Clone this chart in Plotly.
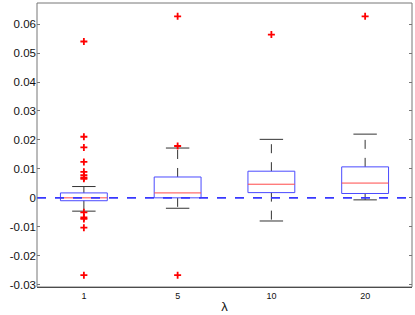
import plotly.graph_objects as go

categories = ["1", "5", "10", "20"]
q1 = [-0.0010, 0.0000, 0.0018, 0.0015]
median = [0.0000, 0.0017, 0.0047, 0.0051]
q3 = [0.0017, 0.0072, 0.0092, 0.0107]
lower_whisker = [-0.0046, -0.0036, -0.0080, -0.0007]
upper_whisker = [0.0039, 0.0172, 0.0202, 0.0220]
outliers = [
    [0.0540, 0.0211, 0.0174, 0.0124, 0.0090, 0.0078, 0.0070, 0.0066,
     -0.0050, -0.0068, -0.0073, -0.0103, -0.0267],
    [0.0627, 0.0179, -0.0267],
    [0.0564],
    [0.0627],
]
y_ticks = [-0.03, -0.02, -0.01, 0, 0.01, 0.02, 0.03, 0.04, 0.05, 0.06]
y_ticktext = ["-0.03", "-0.02", "-0.01", "0", "0.01", "0.02", "0.03", "0.04", "0.05", "0.06"]

BOX_HALF = 0.25
CAP_HALF = 0.125
BLUE = "#4a4aff"
RED = "#ff4a4a"
WHISK = "#333333"

fig = go.Figure()

for i in range(len(categories)):
    fig.add_trace(go.Scatter(x=[i, i], y=[q3[i], upper_whisker[i]], mode="lines",
                             line=dict(color=WHISK, width=1, dash="dash"), hoverinfo="skip"))
    fig.add_trace(go.Scatter(x=[i, i], y=[q1[i], lower_whisker[i]], mode="lines",
                             line=dict(color=WHISK, width=1, dash="dash"), hoverinfo="skip"))
    for w in (upper_whisker[i], lower_whisker[i]):
        fig.add_trace(go.Scatter(x=[i - CAP_HALF, i + CAP_HALF], y=[w, w], mode="lines",
                                 line=dict(color=WHISK, width=1), hoverinfo="skip"))
    fig.add_trace(go.Scatter(x=[i - BOX_HALF, i + BOX_HALF, i + BOX_HALF, i - BOX_HALF, i - BOX_HALF],
                             y=[q1[i], q1[i], q3[i], q3[i], q1[i]], mode="lines",
                             line=dict(color=BLUE, width=1), hoverinfo="skip"))
    fig.add_trace(go.Scatter(x=[i - BOX_HALF, i + BOX_HALF], y=[median[i], median[i]], mode="lines",
                             line=dict(color=RED, width=1), hoverinfo="skip"))
    fig.add_trace(go.Scatter(x=[i] * len(outliers[i]), y=outliers[i], mode="markers",
                             marker=dict(symbol="cross-thin", size=5, color="red",
                                         line=dict(color="red", width=1.8)), hoverinfo="skip"))

fig.add_shape(type="line", xref="paper", x0=0, x1=1, yref="y", y0=0, y1=0,
              line=dict(color="#3838ff", width=1.6, dash="dash"))
fig.add_shape(type="rect", xref="paper", yref="paper", x0=0, x1=1, y0=0, y1=1,
              line=dict(color="#777777", width=1))

fig.update_layout(
    width=415, height=315,
    margin=dict(l=37, r=3, t=3, b=28),
    paper_bgcolor="white", plot_bgcolor="white",
    showlegend=False,
    hovermode=False,
    font=dict(family="Liberation Sans, Arial, sans-serif", color="#111"),
    xaxis=dict(range=[-0.5, 3.5], tickvals=list(range(len(categories))), ticktext=categories,
               showgrid=False, zeroline=False, showline=True, linecolor="#222", linewidth=1,
               ticks="", tickfont=dict(size=9), ticklen=0,
               title=dict(text="λ", font=dict(size=13), standoff=2)),
    yaxis=dict(range=[-0.0308, 0.0673], tickvals=y_ticks, ticktext=y_ticktext,
               showgrid=False, zeroline=False, showline=False,
               ticks="inside", ticklen=3, tickcolor="#777", mirror="ticks",
               tickfont=dict(size=11.5)),
)

fig.write_html("out.html", config={"displayModeBar": False, "staticPlot": True},
               post_script="document.body.style.margin='0';document.body.style.overflow='hidden';")
